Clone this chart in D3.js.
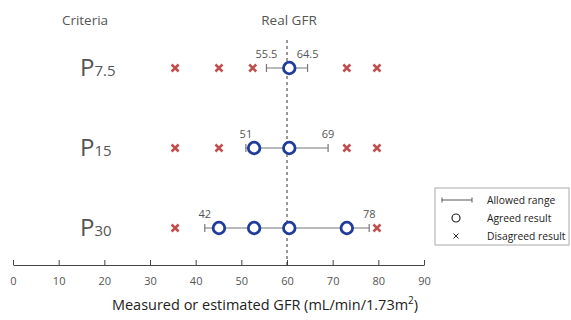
<!DOCTYPE html>
<html>
<head>
<meta charset="utf-8">
<script src="https://cdn.jsdelivr.net/npm/d3@7"></script>
<style>
  body { margin: 0; background: #fff; }
  svg text { font-family: 'Open Sans', 'Noto Sans', sans-serif; fill: #555; }
</style>
</head>
<body>
<div id="chart"></div>
<script>
// criteria rows
const criteria = ['7.5', '15', '30']
// allowed range per criterion [low, high]
const ranges = [[55.5, 64.5], [51, 69], [42, 78]]
// agreed results (circles)
const agreed = [[60.5], [52.8, 60.5], [45.1, 52.8, 60.5, 73.1]]
// disagreed results (crosses)
const disagreed = [[35.5, 45.1, 52.5, 73.1, 79.7], [35.5, 45.1, 73.1, 79.7], [35.5, 79.7]]
const realGFR = 60
const xTicks = [0, 10, 20, 30, 40, 50, 60, 70, 80, 90]

const width = 571
const height = 320
const svg = d3.select('#chart').append('svg')
  .attr('width', width)
  .attr('height', height)

const x = d3.scaleLinear().domain([0, 90]).range([13, 424])
const y = d3.scalePoint().domain(criteria).range([68, 228])
const axisY = 265

// axis line + ticks (ticks point up)
const axis = svg.append('g').attr('transform', `translate(0,${axisY})`)
  .call(d3.axisBottom(x).tickValues(xTicks).tickSize(-5).tickSizeOuter(0).tickPadding(12))
axis.select('.domain').attr('stroke', '#444')
axis.selectAll('.tick line').attr('stroke', '#444')
axis.selectAll('.tick text').attr('font-size', 11).attr('fill', '#555')
  .style('font-family', "'Open Sans', sans-serif")

svg.append('text')
  .attr('x', 265).attr('y', 310)
  .attr('text-anchor', 'middle')
  .attr('font-size', 14.5)
  .style('fill', '#222')
  .html('Measured or estimated GFR (mL/min/1.73m<tspan font-size="10" dy="-6">2</tspan><tspan dy="6">)</tspan>')

// real GFR dashed line
svg.append('line')
  .attr('x1', x(realGFR)).attr('x2', x(realGFR))
  .attr('y1', 40).attr('y2', axisY)
  .attr('stroke', '#333')
  .attr('stroke-width', 1)
  .attr('stroke-dasharray', '3,3')

svg.append('text').attr('x', 85).attr('y', 25)
  .attr('text-anchor', 'middle').attr('font-size', 13.5).text('Criteria')
svg.append('text').attr('x', x(realGFR) + 2).attr('y', 25)
  .attr('text-anchor', 'middle').attr('font-size', 13.5).text('Real GFR')

const rows = svg.selectAll('.row')
  .data(criteria)
  .enter()
  .append('g')
  .attr('class', 'row')
  .attr('transform', d => `translate(0,${y(d)})`)

// criterion labels
rows.append('text')
  .attr('x', 80)
  .attr('y', 8)
  .attr('font-size', 24)
  .html(d => `P<tspan font-size="15">${d}</tspan>`)

// allowed range bars, points
rows.each(function (d, i) {
  const g = d3.select(this)
  const r = ranges[i]
  g.append('line')
    .attr('x1', x(r[0])).attr('x2', x(r[1]))
    .attr('stroke', '#777').attr('stroke-width', 1.2)
  g.selectAll('.cap').data(r).enter().append('line')
    .attr('x1', v => x(v)).attr('x2', v => x(v))
    .attr('y1', -4).attr('y2', 4)
    .attr('stroke', '#777').attr('stroke-width', 1.2)
  g.selectAll('.rlab').data(r).enter().append('text')
    .attr('x', v => x(v))
    .attr('y', -10)
    .attr('text-anchor', 'middle')
    .attr('font-size', 11)
    .text(v => v)

  g.selectAll('.cross').data(disagreed[i]).enter().append('path')
    .attr('d', v => `M${x(v) - 3.5},-3.5L${x(v) + 3.5},3.5M${x(v) - 3.5},3.5L${x(v) + 3.5},-3.5`)
    .attr('stroke', '#c0504d')
    .attr('stroke-width', 2.5)

  g.selectAll('.agree').data(agreed[i]).enter().append('circle')
    .attr('cx', v => x(v))
    .attr('r', 5.8)
    .attr('fill', '#fff')
    .attr('stroke', '#1f3c9a')
    .attr('stroke-width', 2.8)
})

// legend
const lg = svg.append('g').attr('transform', 'translate(435,188)')
lg.append('rect').attr('width', 134).attr('height', 57)
  .attr('fill', '#fff').attr('stroke', '#aaa')
lg.append('line').attr('x1', 7).attr('x2', 37).attr('y1', 12).attr('y2', 12).attr('stroke', '#555')
lg.selectAll('.lc').data([7, 37]).enter().append('line')
  .attr('x1', d => d).attr('x2', d => d).attr('y1', 9.5).attr('y2', 14.5).attr('stroke', '#555')
lg.append('circle').attr('cx', 21).attr('cy', 30).attr('r', 4)
  .attr('fill', 'none').attr('stroke', '#222').attr('stroke-width', 1.2)
lg.append('path').attr('d', 'M18.5,45.5L23.5,50.5M18.5,50.5L23.5,45.5')
  .attr('stroke', '#333').attr('stroke-width', 1)
lg.selectAll('.lt').data(['Allowed range', 'Agreed result', 'Disagreed result']).enter().append('text')
  .attr('x', 52).attr('y', (d, i) => 16 + i * 18)
  .attr('font-size', 10.3)
  .style('fill', '#222')
  .text(d => d)
</script>
</body>
</html>
